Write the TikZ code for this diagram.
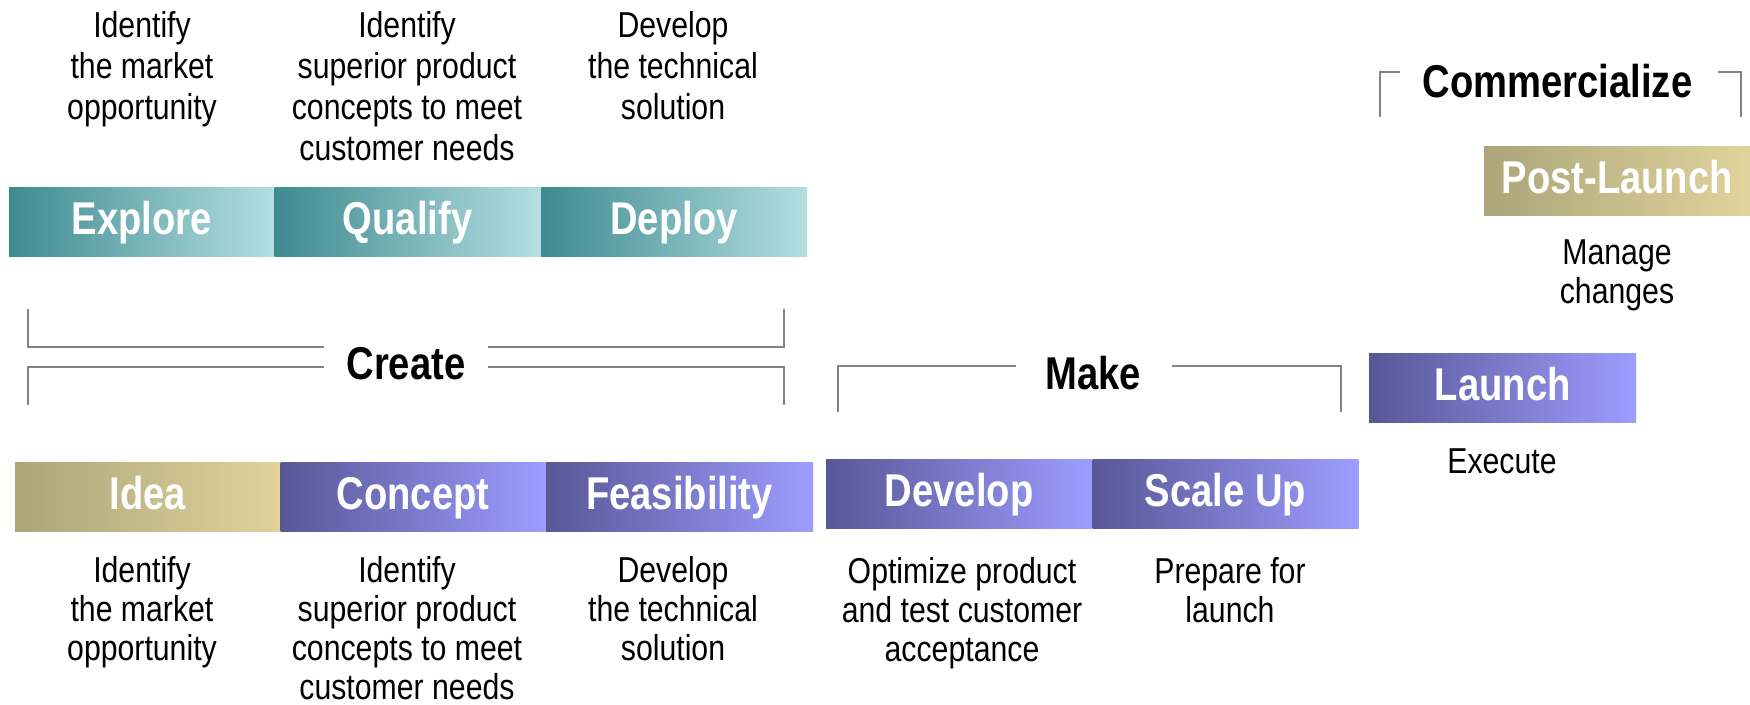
\documentclass[tikz,border=0pt]{standalone}
\usepackage{fontspec}
\setmainfont{Liberation Sans}[FakeStretch=0.84]
\newfontfamily\hfont{Liberation Sans}[FakeStretch=0.83]
\definecolor{tealL}{RGB}{62,139,143}
\definecolor{tealR}{RGB}{180,222,226}
\definecolor{purL}{RGB}{88,87,150}
\definecolor{purR}{RGB}{157,157,255}
\definecolor{goldL}{RGB}{172,165,122}
\definecolor{goldR}{RGB}{224,211,156}
\definecolor{brkgray}{RGB}{130,130,130}
\begin{document}
\begin{tikzpicture}[x=1pt,y=-1pt,
  bar/.style={rectangle, inner sep=0pt, minimum height=69pt, text=white,
    font=\hfont\bfseries\fontsize{46}{50}\selectfont,
    text height=33pt, text depth=8pt, anchor=north west},
  tealbar/.style={bar, left color=tealL, right color=tealR},
  purbar/.style={bar, left color=purL, right color=purR},
  goldbar/.style={bar, left color=goldL, right color=goldR},
  body/.style={font=\fontsize{36}{39}\selectfont, align=center, inner sep=0pt, anchor=north},
  bodytop/.style={body, font=\fontsize{36}{41}\selectfont},
  head/.style={font=\hfont\bfseries\fontsize{46}{50}\selectfont, inner sep=0pt, anchor=base},
  brk/.style={draw=brkgray, line width=2pt}
]
\useasboundingbox (0,0) rectangle (1750,704);
\fill[white] (0,0) rectangle (1750,704);

% top row of bars
\node[tealbar, minimum width=265pt] (explore) at (9,187) {Explore};
\node[tealbar, minimum width=266pt] (qualify) at (explore.north east) {Qualify};
\node[tealbar, minimum width=266pt] (deploy) at (qualify.north east) {Deploy};

% bottom row of bars
\node[goldbar, minimum width=265pt] (idea) at (15,462) {Idea};
\node[purbar, minimum width=265pt] (concept) at (idea.north east) {Concept};
\node[purbar, minimum width=267pt] (feas) at (concept.north east) {Feasibility};
\node[purbar, minimum width=266pt] (develop) at (826,459) {Develop};
\node[purbar, minimum width=266pt] (scaleup) at (develop.north east) {Scale Up};
\node[purbar, minimum width=267pt] (launch) at (1369,353) {Launch};
\node[goldbar, minimum width=266pt] (post) at (1484,146) {Post-Launch};

% descriptive texts
\node[bodytop] (t1) at (142,11) {Identify\\the market\\opportunity};
\node[bodytop] (t2) at (407,11) {Identify\\superior product\\concepts to meet\\customer needs};
\node[bodytop] (t3) at (673,11) {Develop\\the technical\\solution};
\node[body] (b1) at (142,556) {Identify\\the market\\opportunity};
\node[body] (b2) at (407,556) {Identify\\superior product\\concepts to meet\\customer needs};
\node[body] (b3) at (673,556) {Develop\\the technical\\solution};
\node[body] (d1) at (962,557) {Optimize product\\and test customer\\acceptance};
\node[body] (d2) at (1230,557) {Prepare for\\launch};
\node[body] (e1) at (1502,449) {Execute};
\node[body] (m1) at (1617,240) {Manage\\changes};

% section headings
\node[head] (create) at (406,379) {Create};
\node[head] (make) at (1093,389) {Make};
\node[head] (comm) at (1557.5,97) {Commercialize};

% Create brackets
\draw[brk] (28,309) -- (28,347) -- (324,347);
\draw[brk] (488,347) -- (784,347) -- (784,309);
\draw[brk] (28,405) -- (28,367) -- (324,367);
\draw[brk] (488,367) -- (784,367) -- (784,405);
% Make bracket
\draw[brk] (838,412) -- (838,366) -- (1016,366);
\draw[brk] (1172,366) -- (1341,366) -- (1341,412);
% Commercialize bracket
\draw[brk] (1380,117) -- (1380,72) -- (1400,72);
\draw[brk] (1718,72) -- (1741,72) -- (1741,117);
\end{tikzpicture}
\end{document}
